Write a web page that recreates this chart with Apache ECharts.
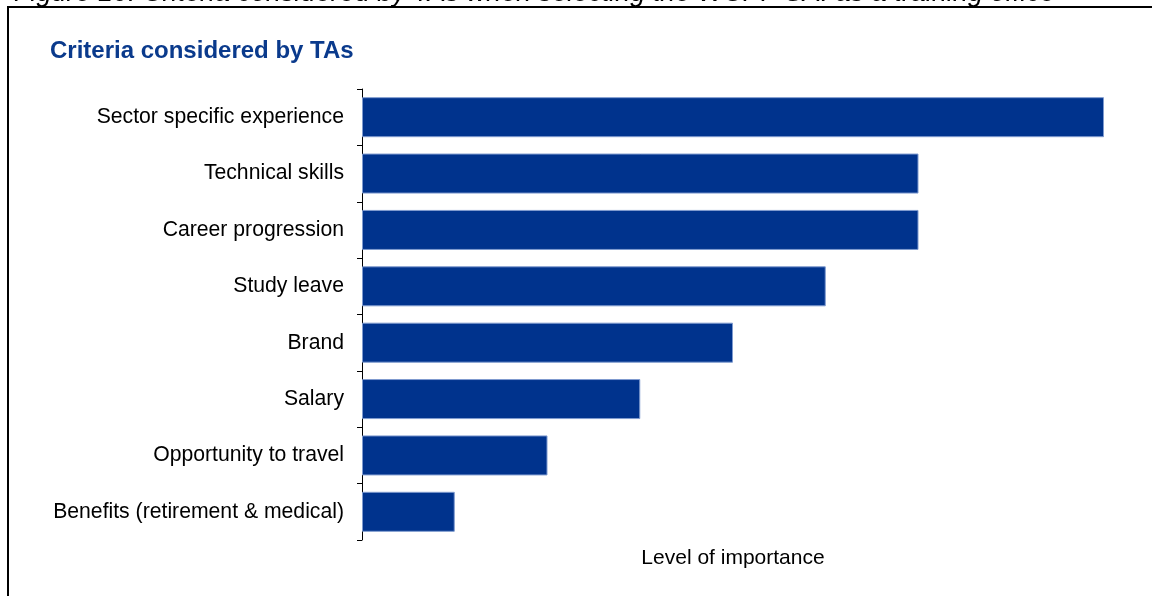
<!DOCTYPE html>
<html>
<head>
<meta charset="utf-8">
<script src="https://cdn.jsdelivr.net/npm/echarts@6/dist/echarts.min.js"></script>
<style>
  html, body { margin: 0; padding: 0; background: #ffffff; }
  #chart { width: 1152px; height: 596px; }
</style>
</head>
<body>
<div id="chart"></div>
<script>
// Criteria, listed top to bottom
const categories = [
  'Sector specific experience',
  'Technical skills',
  'Career progression',
  'Study leave',
  'Brand',
  'Salary',
  'Opportunity to travel',
  'Benefits (retirement & medical)'
];
// Relative level of importance for each criterion
const importance = [8, 6, 6, 5, 4, 3, 2, 1];

const captionText = 'Figure 10: Criteria considered by TAs when selecting the WCPF SAI as a training office';
const titleText = 'Criteria considered by TAs';
const axisName = 'Level of importance';

const chart = echarts.init(document.getElementById('chart'), null, { renderer: 'canvas' });

chart.setOption({
  animation: false,
  backgroundColor: '#ffffff',
  title: {
    text: titleText,
    left: 45,
    top: 34,
    textStyle: {
      fontFamily: 'Liberation Sans, Arial, sans-serif',
      fontSize: 24,
      fontWeight: 'bold',
      color: '#0A3A8C'
    }
  },
  graphic: [
    {
      type: 'text',
      left: 14,
      top: -20,
      style: {
        text: captionText,
        font: 'italic 27px "Liberation Sans", Arial, sans-serif',
        fill: '#000000'
      }
    },
    {
      type: 'polyline',
      shape: { points: [[8, 596], [8, 7], [1152, 7]] },
      style: { stroke: '#000000', lineWidth: 2, fill: null }
    }
  ],
  grid: {
    left: 362,
    right: 48,
    top: 89,
    bottom: 56,
    containLabel: false
  },
  xAxis: {
    type: 'value',
    min: 0,
    max: 8,
    interval: 1,
    axisLine: { show: false },
    axisTick: { show: false },
    axisLabel: { show: false },
    splitLine: { show: false },
    name: axisName,
    nameLocation: 'middle',
    nameGap: 8,
    nameTextStyle: {
      fontFamily: 'Liberation Sans, Arial, sans-serif',
      fontSize: 21,
      color: '#000000'
    }
  },
  yAxis: {
    type: 'category',
    data: categories,
    inverse: true,
    axisLine: { show: true, lineStyle: { color: '#000000', width: 1 } },
    axisTick: { show: true, length: 5, alignWithLabel: false, lineStyle: { color: '#000000' } },
    axisLabel: {
      margin: 18,
      fontFamily: 'Liberation Sans, Arial, sans-serif',
      fontSize: 21.2,
      color: '#000000'
    }
  },
  series: [
    {
      type: 'bar',
      data: importance,
      barCategoryGap: '29%',
      itemStyle: {
        color: '#00338D',
        borderColor: '#7F9BCF',
        borderWidth: 1
      }
    }
  ]
});
</script>
</body>
</html>
